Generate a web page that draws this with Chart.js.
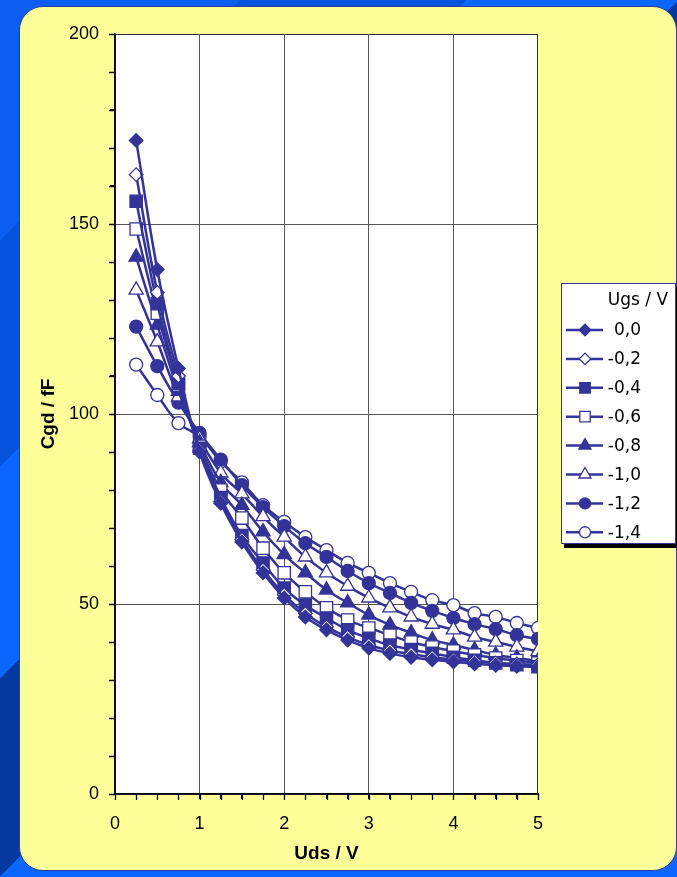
<!DOCTYPE html>
<html>
<head>
<meta charset="utf-8">
<script src="https://cdn.jsdelivr.net/npm/chart.js@4/dist/chart.umd.min.js"></script>
<style>
  html, body { margin: 0; padding: 0; }
  body {
    width: 677px; height: 877px; overflow: hidden; position: relative;
    background: linear-gradient(135deg, #0b5ef0 0px, #0b5ef0 170px, #0552dc 170px, #0552dc 330px,
      #0a66ff 330px, #0a66ff 480px, #06399f 480px, #06399f 620px, #0a66ff 620px);
  }
  #panel {
    position: absolute; left: 19px; top: 6px; width: 656px; height: 863px;
    background: #ffff99; border: 1.5px solid #2b3b9e; border-radius: 24px;
  }
  #chart { position: absolute; left: 0; top: 0; }
</style>
</head>
<body>
<div id="panel"></div>
<canvas id="chart" width="677" height="877"></canvas>
<script>
// Uds / V
var uds = [0.25, 0.5, 0.75, 1, 1.25, 1.5, 1.75, 2, 2.25, 2.5, 2.75, 3, 3.25, 3.5, 3.75, 4, 4.25, 4.5, 4.75, 5];

// Cgd / fF for each Ugs
var cgd00 = [172, 138, 112, 90, 76.5, 66.3, 58.2, 51.6, 46.6, 43.2, 40.5, 38.4, 37, 36, 35.3, 34.8, 34.3, 33.9, 33.6, 33.4];
var cgdM02 = [163, 132, 110, 90.5, 77, 67, 59, 52.5, 47.5, 44, 41.3, 39.2, 37.8, 36.8, 36, 35.4, 34.9, 34.5, 34.2, 34];
var cgdM04 = [156, 129, 108, 91, 78, 68, 60.8, 54.2, 49.7, 46.3, 43.2, 41, 39.2, 38, 37, 36, 35.2, 34.5, 34, 33.5];
var cgdM06 = [148.7, 126.5, 107.5, 91.5, 80, 72.6, 64.7, 58.2, 53.2, 49, 45.8, 43.7, 41.8, 40, 38.7, 37.6, 36.6, 35.8, 35.1, 34.5];
var cgdM08 = [141.3, 123.4, 106, 92.5, 82, 76, 69, 63, 58.2, 53.7, 50.3, 47.1, 44.5, 42.4, 40.5, 39.2, 37.9, 36.6, 35.8, 35];
var cgdM10 = [132.6, 119, 104.5, 93.5, 84.5, 79, 73, 67.6, 62.4, 58.2, 54.7, 51.6, 49, 46.6, 44.7, 43.2, 41.3, 40, 38.7, 37.5];
var cgdM12 = [123, 112.6, 103, 95, 88, 81.3, 75.5, 70.5, 66, 62.4, 58.7, 55.5, 52.9, 50.3, 48.2, 46.3, 44.7, 43.4, 41.8, 40.8];
var cgdM14 = [113, 105, 97.6, 94, 87.5, 82, 76, 71.6, 67.6, 64.2, 60.8, 58.2, 55.5, 53.2, 51, 49.7, 47.6, 46.6, 45, 43.7];

var ugsLabels = ['0,0', '-0,2', '-0,4', '-0,6', '-0,8', '-1,0', '-1,2', '-1,4'];
var seriesValues = [cgd00, cgdM02, cgdM04, cgdM06, cgdM08, cgdM10, cgdM12, cgdM14];

var navy = '#333399';
var markerStyles = ['rectRot', 'rectRot', 'rect', 'rect', 'triangle', 'triangle', 'circle', 'circle'];
var markerRadius = { rectRot: 6.8, rect: 8.7, triangle: 8.2, circle: 6.5 };

var datasets = seriesValues.map(function(vals, i) {
  var filled = i % 2 === 0;
  var style = markerStyles[i];
  return {
    label: ugsLabels[i],
    data: vals.map(function(v, j) { return { x: uds[j], y: v }; }),
    borderColor: navy,
    borderWidth: 2.5,
    backgroundColor: filled ? navy : '#ffffff',
    pointStyle: style,
    pointRadius: markerRadius[style],
    pointBackgroundColor: filled ? navy : '#ffffff',
    pointBorderColor: navy,
    pointBorderWidth: 1.3,
    tension: 0.4,
    fill: false,
  };
});

// white plot area with a thin frame
var plotArea = {
  id: 'plotArea',
  beforeDraw: function(chart) {
    var a = chart.chartArea;
    var ctx = chart.ctx;
    ctx.save();
    ctx.fillStyle = '#ffffff';
    ctx.fillRect(a.left, a.top, a.right - a.left, a.bottom - a.top);
    ctx.strokeStyle = '#333';
    ctx.lineWidth = 1;
    ctx.strokeRect(a.left + 0.5, a.top + 0.5, a.right - a.left - 1, a.bottom - a.top);
    ctx.restore();
  }
};

// small outside tick marks on every scale tick
var tickMarks = {
  id: 'tickMarks',
  afterDraw: function(chart) {
    var ctx = chart.ctx;
    var a = chart.chartArea;
    var xs = chart.scales.x, ys = chart.scales.y;
    ctx.save();
    ctx.strokeStyle = '#000';
    ctx.lineWidth = 1.3;
    ctx.beginPath();
    ys.ticks.forEach(function(t) {
      var py = Math.round(ys.getPixelForValue(t.value)) + 0.5;
      ctx.moveTo(a.left - 6, py);
      ctx.lineTo(a.left, py);
    });
    xs.ticks.forEach(function(t) {
      var px = Math.round(xs.getPixelForValue(t.value)) + 0.5;
      ctx.moveTo(px, a.bottom);
      ctx.lineTo(px, a.bottom + 6);
    });
    ctx.stroke();
    ctx.restore();
  }
};

// Excel-style legend box on the right
var legendBox = {
  id: 'legendBox',
  afterDraw: function(chart) {
    var ctx = chart.ctx;
    var left = 561, top = 283, right = 676, bottom = 544;
    ctx.save();
    ctx.fillStyle = '#000';
    ctx.fillRect(left + 3, bottom, right - left, 4);
    ctx.fillRect(right, top + 3, 4, bottom - top + 1);
    ctx.fillStyle = '#fff';
    ctx.fillRect(left, top, right - left, bottom - top);
    ctx.strokeStyle = navy;
    ctx.lineWidth = 1;
    ctx.strokeRect(left + 0.5, top + 0.5, right - left - 1, bottom - top - 1);

    ctx.fillStyle = '#000';
    ctx.font = '17px "DejaVu Sans"';
    ctx.textAlign = 'center';
    ctx.textBaseline = 'middle';
    ctx.fillText('Ugs / V', 638, 301);

    ctx.textAlign = 'right';
    chart.data.datasets.forEach(function(ds, i) {
      var y = 330 + i * 28.9;
      ctx.strokeStyle = navy;
      ctx.lineWidth = 2.5;
      ctx.beginPath();
      ctx.moveTo(566, y);
      ctx.lineTo(603, y);
      ctx.stroke();
      ctx.fillStyle = ds.pointBackgroundColor;
      ctx.strokeStyle = navy;
      ctx.lineWidth = 1.3;
      Chart.helpers.drawPoint(ctx, {
        pointStyle: ds.pointStyle,
        radius: ds.pointRadius * 0.85,
        rotation: 0,
        borderWidth: 1.3
      }, 585, y);
      ctx.fillStyle = '#000';
      ctx.fillText(ds.label, 641, y + 1);
    });
    ctx.restore();
  }
};

var tickFont = { family: '"Liberation Sans", Arial, sans-serif', size: 18 };
var titleFont = { family: '"Liberation Sans", Arial, sans-serif', size: 19, weight: 'bold' };

new Chart(document.getElementById('chart'), {
  type: 'line',
  data: { datasets: datasets },
  options: {
    responsive: false,
    animation: false,
    layout: { padding: { left: 20, top: 34, right: 139, bottom: 0 } },
    plugins: {
      legend: { display: false },
      tooltip: { enabled: false },
    },
    scales: {
      x: {
        type: 'linear',
        min: 0,
        max: 5,
        afterFit: function(scale) { scale.height = 83; },
        ticks: {
          stepSize: 0.25,
          autoSkip: false,
          maxRotation: 0,
          padding: 14,
          color: '#000',
          font: tickFont,
          callback: function(v) { return Number.isInteger(v) ? v : ''; }
        },
        grid: {
          tickLength: 5,
          color: function(c) {
            var v = c.tick && c.tick.value;
            return (Number.isInteger(v) && v > 0 && v < 5) ? '#555' : 'rgba(0,0,0,0)';
          },
          tickColor: '#000',
          lineWidth: 1,
        },
        border: { color: '#000', width: 1.5 },
        title: {
          display: true,
          text: 'Uds / V',
          color: '#000',
          font: titleFont,
          padding: { top: 0, bottom: 12 },
        },
      },
      y: {
        min: 0,
        max: 200,
        afterFit: function(scale) { scale.width = 95; },
        ticks: {
          stepSize: 10,
          autoSkip: false,
          padding: 11,
          color: '#000',
          font: tickFont,
          callback: function(v) { return v % 50 === 0 ? v : ''; }
        },
        grid: {
          tickLength: 5,
          color: function(c) {
            var v = c.tick && c.tick.value;
            return (v % 50 === 0 && v > 0 && v < 200) ? '#555' : 'rgba(0,0,0,0)';
          },
          tickColor: '#000',
          lineWidth: 1,
        },
        border: { color: '#000', width: 1.5 },
        title: {
          display: true,
          text: 'Cgd / fF',
          color: '#000',
          font: titleFont,
          padding: { top: 17, bottom: 0 },
        },
      },
    },
  },
  plugins: [plotArea, tickMarks, legendBox],
});
</script>
</body>
</html>
